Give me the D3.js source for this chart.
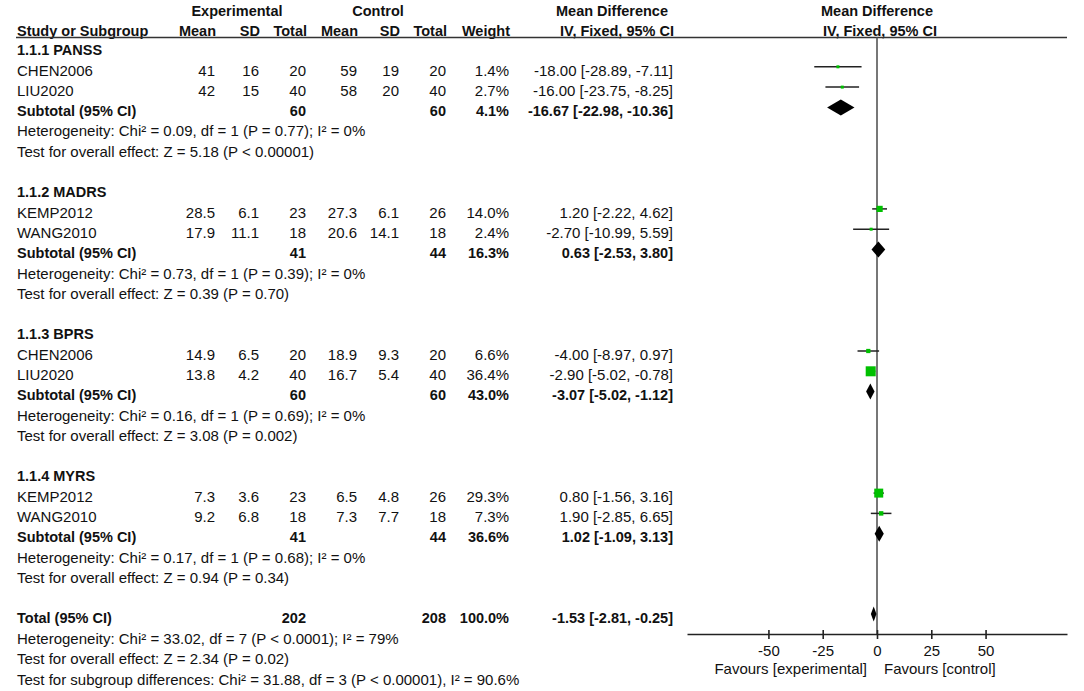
<!DOCTYPE html>
<html>
<head>
<meta charset="utf-8">
<script src="https://cdn.jsdelivr.net/npm/d3@7"></script>
<style>
  body { margin: 0; background: #fff; }
  svg text { font-family: "Liberation Sans", Arial, sans-serif; fill: #111; }
</style>
</head>
<body>
<script>
// study rows
const groupTitles = ["1.1.1 PANSS", "1.1.2 MADRS", "1.1.3 BPRS", "1.1.4 MYRS"];
const studyGroup = [0, 0, 1, 1, 2, 2, 3, 3];
const studyNames = ["CHEN2006", "LIU2020", "KEMP2012", "WANG2010", "CHEN2006", "LIU2020", "KEMP2012", "WANG2010"];
const expMean = [41, 42, 28.5, 17.9, 14.9, 13.8, 7.3, 9.2];
const expSD = [16, 15, 6.1, 11.1, 6.5, 4.2, 3.6, 6.8];
const expN = [20, 40, 23, 18, 20, 40, 23, 18];
const ctlMean = [59, 58, 27.3, 20.6, 18.9, 16.7, 6.5, 7.3];
const ctlSD = [19, 20, 6.1, 14.1, 9.3, 5.4, 4.8, 7.7];
const ctlN = [20, 40, 26, 18, 20, 40, 26, 18];
const weight = [1.4, 2.7, 14.0, 2.4, 6.6, 36.4, 29.3, 7.3];
const md = [-18.00, -16.00, 1.20, -2.70, -4.00, -2.90, 0.80, 1.90];
const mdLow = [-28.89, -23.75, -2.22, -10.99, -8.97, -5.02, -1.56, -2.85];
const mdHigh = [-7.11, -8.25, 4.62, 5.59, 0.97, -0.78, 3.16, 6.65];

// subtotals
const subExpN = [60, 41, 60, 41];
const subCtlN = [60, 44, 60, 44];
const subWeight = [4.1, 16.3, 43.0, 36.6];
const subMd = [-16.67, 0.63, -3.07, 1.02];
const subLow = [-22.98, -2.53, -5.02, -1.09];
const subHigh = [-10.36, 3.80, -1.12, 3.13];
const subHet = ["Chi\u00b2 = 0.09, df = 1 (P = 0.77); I\u00b2 = 0%",
                "Chi\u00b2 = 0.73, df = 1 (P = 0.39); I\u00b2 = 0%",
                "Chi\u00b2 = 0.16, df = 1 (P = 0.69); I\u00b2 = 0%",
                "Chi\u00b2 = 0.17, df = 1 (P = 0.68); I\u00b2 = 0%"];
const subZ = ["Z = 5.18 (P < 0.00001)", "Z = 0.39 (P = 0.70)", "Z = 3.08 (P = 0.002)", "Z = 0.94 (P = 0.34)"];

// overall
const totExpN = 202, totCtlN = 208, totWeight = 100.0;
const totMd = -1.53, totLow = -2.81, totHigh = -0.25;
const totHet = "Chi\u00b2 = 33.02, df = 7 (P < 0.0001); I\u00b2 = 79%";
const totZ = "Z = 2.34 (P = 0.02)";
const subDiff = "Chi\u00b2 = 31.88, df = 3 (P < 0.00001), I\u00b2 = 90.6%";

// axis
const axisTicks = [-50, -25, 0, 25, 50];
const axisDomain = [-87.5, 87.5];
const favourLeft = "Favours [experimental]", favourRight = "Favours [control]";

var width = 1084, height = 691;
var colX = { expMean: 215, expSD: 259, expN: 306, ctlMean: 357, ctlSD: 399, ctlN: 446, weight: 509, ci: 673 };
var axisY = 634;

var x = d3.scaleLinear().domain(axisDomain).range([687, 1067]);
var boxSize = d3.scaleSqrt().domain([0, d3.max(weight)]).range([0, 10]);

function rowY(i) { return 50 + 20.3 * (i - 2); }
function ciText(m, l, h) { return m.toFixed(2) + " [" + l.toFixed(2) + ", " + h.toFixed(2) + "]"; }

var svg = d3.select("body").append("svg")
    .attr("width", width)
    .attr("height", height);

function txt(xp, yp, s, anchor, bold, size) {
    svg.append("text")
        .attr("x", xp).attr("y", yp).attr("dy", "0.35em")
        .attr("text-anchor", anchor || "start")
        .style("font-size", (size || 15) + "px")
        .style("font-weight", bold ? "bold" : "normal")
        .text(s);
}

// header
txt(237, 11, "Experimental", "middle", true, 14.5);
txt(378, 11, "Control", "middle", true, 14.5);
txt(612, 11, "Mean Difference", "middle", true, 14.5);
txt(877, 11, "Mean Difference", "middle", true, 14.5);
txt(17, 31, "Study or Subgroup", "start", true, 14.5);
[["expMean", "Mean"], ["expSD", "SD"], ["expN", "Total"], ["ctlMean", "Mean"], ["ctlSD", "SD"],
 ["ctlN", "Total"], ["weight", "Weight"]].forEach(function (h) {
    txt(colX[h[0]] + 1, 31, h[1], "end", true, 14.5);
});
txt(617, 31, "IV, Fixed, 95% CI", "middle", true, 14.5);
txt(880, 31, "IV, Fixed, 95% CI", "middle", true, 14.5);

svg.append("line")
    .attr("x1", 16).attr("x2", 1067).attr("y1", 37.5).attr("y2", 37.5)
    .attr("stroke", "#333").attr("stroke-width", 1.6);

// zero line
svg.append("line")
    .attr("x1", x(0)).attr("x2", x(0)).attr("y1", 37.5).attr("y2", axisY)
    .attr("stroke", "#555").attr("stroke-width", 1.6);

var row = 2;
groupTitles.forEach(function (title, g) {
    txt(17, rowY(row), title, "start", true, 14.5);
    row++;
    d3.range(studyNames.length).filter(function (i) { return studyGroup[i] === g; }).forEach(function (i) {
        var y = rowY(row);
        txt(17, y, studyNames[i]);
        txt(colX.expMean, y, String(expMean[i]), "end");
        txt(colX.expSD, y, String(expSD[i]), "end");
        txt(colX.expN, y, String(expN[i]), "end");
        txt(colX.ctlMean, y, String(ctlMean[i]), "end");
        txt(colX.ctlSD, y, String(ctlSD[i]), "end");
        txt(colX.ctlN, y, String(ctlN[i]), "end");
        txt(colX.weight, y, weight[i].toFixed(1) + "%", "end");
        txt(colX.ci, y, ciText(md[i], mdLow[i], mdHigh[i]), "end");
        var my = y - 3.5;
        svg.append("line")
            .attr("x1", x(mdLow[i])).attr("x2", x(mdHigh[i]))
            .attr("y1", my).attr("y2", my)
            .attr("stroke", "#222").attr("stroke-width", 1.5);
        var s = Math.max(3, boxSize(weight[i]));
        svg.append("rect")
            .attr("x", x(md[i]) - s / 2).attr("y", my - s / 2)
            .attr("width", s).attr("height", s)
            .attr("fill", "#00c000");
        row++;
    });
    var y = rowY(row);
    txt(17, y, "Subtotal (95% CI)", "start", true, 14.5);
    txt(colX.expN, y, String(subExpN[g]), "end", true, 14.5);
    txt(colX.ctlN, y, String(subCtlN[g]), "end", true, 14.5);
    txt(colX.weight, y, subWeight[g].toFixed(1) + "%", "end", true, 14.5);
    txt(colX.ci, y, ciText(subMd[g], subLow[g], subHigh[g]), "end", true, 14.5);
    var dy = y - 3.5;
    svg.append("path")
        .attr("d", "M" + x(subLow[g]) + "," + dy + "L" + x(subMd[g]) + "," + (dy - 8) +
                   "L" + x(subHigh[g]) + "," + dy + "L" + x(subMd[g]) + "," + (dy + 8) + "Z")
        .attr("fill", "#000");
    row++;
    txt(17, rowY(row), "Heterogeneity: " + subHet[g]);
    row++;
    txt(17, rowY(row), "Test for overall effect: " + subZ[g]);
    row += 2;
});

// overall
var ty = rowY(row);
txt(17, ty, "Total (95% CI)", "start", true, 14.5);
txt(colX.expN, ty, String(totExpN), "end", true, 14.5);
txt(colX.ctlN, ty, String(totCtlN), "end", true, 14.5);
txt(colX.weight, ty, totWeight.toFixed(1) + "%", "end", true, 14.5);
txt(colX.ci, ty, ciText(totMd, totLow, totHigh), "end", true, 14.5);
var tdy = ty - 4.5;
svg.append("path")
    .attr("d", "M" + x(totLow) + "," + tdy + "L" + x(totMd) + "," + (tdy - 7.5) +
               "L" + x(totHigh) + "," + tdy + "L" + x(totMd) + "," + (tdy + 7.5) + "Z")
    .attr("fill", "#000");
row++;
txt(17, rowY(row), "Heterogeneity: " + totHet);
row++;
txt(17, rowY(row), "Test for overall effect: " + totZ);
row++;
txt(17, rowY(row), "Test for subgroup differences: " + subDiff);

// axis
var axis = svg.append("g")
    .attr("transform", "translate(0," + axisY + ")")
    .call(d3.axisBottom(x).tickValues(axisTicks).tickFormat(function (d) { return String(d); })
        .tickSizeOuter(0).tickSizeInner(5).tickPadding(6));
axis.select(".domain").attr("stroke", "#222").attr("stroke-width", 1.6);
axis.selectAll(".tick line").attr("y1", -4).attr("y2", 5).attr("stroke", "#222").attr("stroke-width", 1.6);
axis.selectAll(".tick text")
    .style("font-family", "'Liberation Sans', Arial, sans-serif")
    .style("font-size", "15px").attr("fill", "#111");

txt(x(0) - 10, 669, favourLeft, "end");
txt(x(0) + 7, 669, favourRight, "start");
</script>
</body>
</html>
